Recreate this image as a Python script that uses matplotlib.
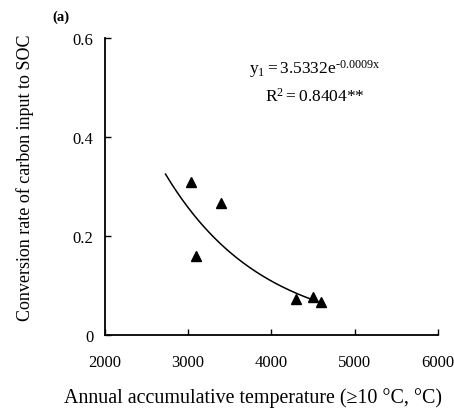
import numpy as np
import matplotlib
matplotlib.use('Agg')
import matplotlib.pyplot as plt

# data
temp = [3040, 3100, 3400, 4290, 4500, 4590]
conv = [0.309, 0.160, 0.267, 0.073, 0.077, 0.067]

# trendline as drawn (exponential fit)
fit_a = 3.40
fit_b = 0.00086
fit_x0 = 2730
fit_x1 = 4590

plt.rcParams['font.family'] = ['Liberation Serif', 'DejaVu Serif']
plt.rcParams['mathtext.fontset'] = 'custom'
plt.rcParams['mathtext.rm'] = 'Liberation Serif'
plt.rcParams['mathtext.it'] = 'Liberation Serif'

fig = plt.figure(figsize=(4.54, 4.10), dpi=100)
ax = fig.add_axes([0.2306, 0.1805, 0.7342, 0.7244])

xs = np.linspace(fit_x0, fit_x1, 200)
ax.plot(xs, fit_a * np.exp(-fit_b * xs), color='black', lw=1.1)
ax.plot(temp, conv, linestyle='none', marker='^', color='black', markersize=7.5)

ax.set_xlim(2000, 6000)
ax.set_ylim(0, 0.6)
ax.set_xticks([2000, 3000, 4000, 5000, 6000])
ax.set_yticks([0, 0.2, 0.4, 0.6])
ax.set_yticklabels(['0', '0.2', '0.4', '0.6'])
for s in ['top', 'right']:
    ax.spines[s].set_visible(False)
for s in ['left', 'bottom']:
    ax.spines[s].set_linewidth(1.3)
ax.tick_params(axis='both', direction='in', length=4, width=1, labelsize=12)
ax.tick_params(axis='x', pad=14)
ax.tick_params(axis='y', pad=8)

ax.set_xlabel('Annual accumulative temperature (\u226510 \u00b0C, \u00b0C)', fontsize=14.4)
ax.xaxis.set_label_coords(0.445, -0.176)
ax.set_ylabel('Conversion rate of carbon input to SOC', fontsize=13)
ax.yaxis.set_label_coords(-0.212, 0.532)

ax.text(0.63, 0.9, '$\\mathrm{y_1 = 3.5332e^{\u20100.0009x}}$', transform=ax.transAxes,
        ha='center', va='center', fontsize=12.5)
ax.text(0.63, 0.805, r'$\mathrm{R^2 = 0.8404}$**', transform=ax.transAxes,
        ha='center', va='center', fontsize=12.5)
fig.text(0.115, 0.958, '(a)', fontsize=10.5, fontweight='bold', ha='left', va='center')

plt.savefig('out.png', dpi=100)
